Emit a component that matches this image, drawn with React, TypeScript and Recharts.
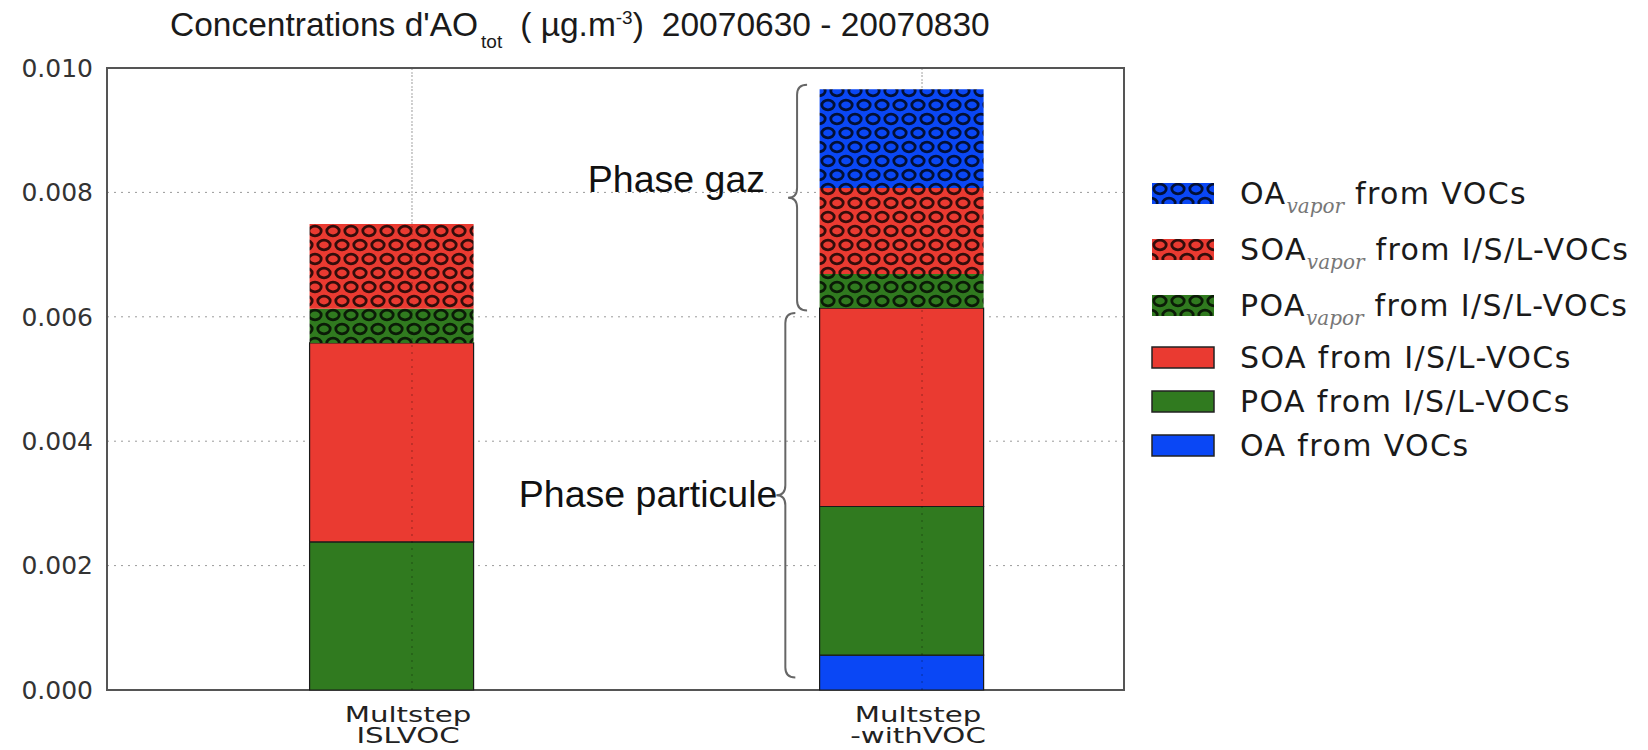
import React from 'react'
import {
  BarChart,
  Bar,
  XAxis,
  YAxis,
  CartesianGrid,
  ReferenceArea,
  ReferenceLine,
  Legend,
} from 'recharts'

// two runs, stacked from the bottom up
const categories = ['Multstep\nISLVOC', 'Multstep\n-withVOC']
const oaVocs = [0, 0.00056]
const poa = [0.00238, 0.00239]
const soa = [0.0032, 0.00319]
const poaVapor = [0.00055, 0.00055]
const soaVapor = [0.00136, 0.00138]
const oaVapor = [0, 0.00159]
const yTicks = [0, 0.002, 0.004, 0.006, 0.008, 0.01]

const BLUE = '#0a47f5'
const GREEN = '#307a1f'
const RED = '#ea3a31'

const series = [
  { key: 'oa', name: 'OA from VOCs', fill: BLUE, hatch: '' },
  { key: 'poa', name: 'POA from I/S/L-VOCs', fill: GREEN, hatch: '' },
  { key: 'soa', name: 'SOA from I/S/L-VOCs', fill: RED, hatch: '' },
  { key: 'poaV', name: 'POA|from I/S/L-VOCs', fill: GREEN, hatch: 'hatch-green' },
  { key: 'soaV', name: 'SOA|from I/S/L-VOCs', fill: RED, hatch: 'hatch-red' },
  { key: 'oaV', name: 'OA|from VOCs', fill: BLUE, hatch: 'hatch-blue' },
]

const rows = categories.map((c, i) => ({
  pos: i,
  label: c,
  oa: oaVocs[i],
  poa: poa[i],
  soa: soa[i],
  poaV: poaVapor[i],
  soaV: soaVapor[i],
  oaV: oaVapor[i],
}))

// matplotlib put the ticks a bit right of the bar centres
const X_DOMAIN: [number, number] = [-0.558, 1.436]
const TICK_SHIFT = 0.04
const tickPos = categories.map((_, i) => i + TICK_SHIFT)

const particle = oaVocs[1] + poa[1] + soa[1]
const total = particle + poaVapor[1] + soaVapor[1] + oaVapor[1]

function HatchDefs() {
  const mk = (id: string, color: string) => (
    <pattern key={id} id={id} patternUnits="userSpaceOnUse" width={18} height={28}>
      <rect width={18} height={28} fill={color} />
      {[
        [9, 7],
        [0, 21],
        [18, 21],
      ].map(([cx, cy], k) => (
        <ellipse
          key={k}
          cx={cx}
          cy={cy}
          rx={6.2}
          ry={4.8}
          fill="none"
          stroke="rgba(0,0,0,0.78)"
          strokeWidth={2.8}
        />
      ))}
    </pattern>
  )
  return (
    <svg width={0} height={0} style={{ position: 'absolute' }}>
      <defs>
        {mk('hatch-blue', BLUE)}
        {mk('hatch-red', RED)}
        {mk('hatch-green', GREEN)}
      </defs>
    </svg>
  )
}

// the source figure was stretched sideways, hence the scaleX
function CatTick({ x, y, payload }: any) {
  const idx = Math.round(payload.value - TICK_SHIFT)
  const lines = (categories[idx] || '').split('\n')
  return (
    <g>
      {lines.map((l, k) => (
        <text
          key={k}
          transform={`translate(${x - 4},${y + k * 21}) scale(1.33,1)`}
          textAnchor="middle"
          fill="#222"
          fontSize={22}
          fontFamily="DejaVu Sans"
        >
          {l}
        </text>
      ))}
    </g>
  )
}

function Brace({ x, y, height, text, tipShift, gap }: any) {
  const top = y
  const bot = y + height
  const mid = (top + bot) / 2
  const c = 10
  const d = `M ${x + c} ${top} Q ${x} ${top} ${x} ${top + c} L ${x} ${mid - c} Q ${x} ${mid} ${x - 9} ${mid} Q ${x} ${mid} ${x} ${mid + c} L ${x} ${bot - c} Q ${x} ${bot} ${x + c} ${bot}`
  return (
    <g>
      <path d={d} fill="none" stroke="#666" strokeWidth={2} />
      <text
        x={x - gap}
        y={mid + tipShift}
        textAnchor="end"
        fill="#111"
        fontSize={37.5}
        fontFamily="Liberation Sans"
      >
        {text}
      </text>
    </g>
  )
}

function LegendBox() {
  const items = [...series].reverse()
  return (
    <div style={{ fontFamily: 'DejaVu Sans', color: '#1a1a1a' }}>
      {items.map((s, i) => {
        const [head, tail] = s.name.split('|')
        const sub = tail !== undefined
        return (
          <div
            key={s.key}
            style={{
              display: 'flex',
              alignItems: 'center',
              height: sub ? 56 : 44,
              marginTop: i === 3 ? 2 : 0,
            }}
          >
            <svg width={64} height={23} style={{ flex: 'none' }}>
              <rect
                x={1}
                y={1}
                width={62}
                height={21}
                fill={s.hatch ? `url(#${s.hatch})` : s.fill}
                stroke={s.hatch ? 'none' : '#222'}
                strokeWidth={1.5}
              />
            </svg>
            <span style={{ marginLeft: 25, fontSize: 30, whiteSpace: 'nowrap', letterSpacing: 1.4 }}>
              {sub ? (
                <>
                  {head}
                  <span
                    style={{
                      fontFamily: 'DejaVu Serif',
                      fontStyle: 'italic',
                      fontSize: 20,
                      color: '#777',
                      position: 'relative',
                      top: 9,
                      letterSpacing: 0,
                    }}
                  >
                    vapor
                  </span>{' '}
                  {tail}
                </>
              ) : (
                s.name
              )}
            </span>
          </div>
        )
      })}
    </div>
  )
}

export default function App() {
  return (
    <div style={{ position: 'absolute', left: 0, top: 0, width: 1648, height: 750, background: '#fff' }}>
      <HatchDefs />
      <svg width={1648} height={60} style={{ position: 'absolute', left: 0, top: 0 }}>
        <text x={170} y={36} fontFamily="Liberation Sans" fontSize={33.5} fill="#1a1a1a">
          Concentrations d'AO
          <tspan fontSize={19} dy={12} dx={3}>tot</tspan>
          <tspan dy={-12} dx={18}>( µg.m</tspan>
          <tspan fontSize={19} dy={-12}>-3</tspan>
          <tspan dy={12}>)</tspan>
          <tspan dx={18}>20070630 - 20070830</tspan>
        </text>
      </svg>
      <BarChart
        width={1648}
        height={750}
        data={rows}
        margin={{ top: 68, right: 524, bottom: 10, left: 27 }}
      >
        <CartesianGrid xAxisId="lab" stroke="#9a9a9a" strokeDasharray="2 5" />
        <XAxis xAxisId="bars" dataKey="pos" type="number" domain={X_DOMAIN} hide allowDataOverflow />
        <XAxis
          xAxisId="lab"
          dataKey="pos"
          type="number"
          domain={X_DOMAIN}
          ticks={tickPos}
          tick={<CatTick />}
          height={50}
          axisLine={false}
          tickLine={false}
          tickSize={0}
          allowDataOverflow
        />
        <YAxis
          domain={[0, 0.01]}
          ticks={yTicks}
          tickFormatter={(v: number) => v.toFixed(3)}
          width={80}
          axisLine={false}
          tickLine={false}
          tickSize={0}
          tickMargin={14}
          tick={{ fill: '#333', fontSize: 25, fontFamily: 'DejaVu Sans' }}
        />
        {series.map((s) => (
          <Bar
            key={s.key}
            xAxisId="bars"
            dataKey={s.key}
            stackId="a"
            fill={s.hatch ? `url(#${s.hatch})` : s.fill}
            stroke={s.hatch ? 'none' : '#1a1a1a'}
            strokeWidth={1.2}
            barSize={164}
            isAnimationActive={false}
          />
        ))}
        {tickPos.map((t) => (
          <ReferenceLine
            key={t}
            xAxisId="lab"
            x={t}
            stroke="rgba(0,0,0,0.35)"
            strokeDasharray="2 5"
          />
        ))}
        <ReferenceArea
          xAxisId="bars"
          x1={X_DOMAIN[0]}
          x2={X_DOMAIN[1]}
          y1={0}
          y2={0.01}
          fill="none"
          fillOpacity={0}
          stroke="#555"
          strokeWidth={2}
        />
        <ReferenceArea
          xAxisId="bars"
          x1={0.772}
          x2={0.78}
          y1={0.0002}
          y2={particle - 0.00008}
          shape={(p: any) => <Brace {...p} text="Phase particule" tipShift={12} gap={8} />}
        />
        <ReferenceArea
          xAxisId="bars"
          x1={0.795}
          x2={0.8}
          y1={particle - 0.00004}
          y2={total + 0.00007}
          shape={(p: any) => <Brace {...p} text="Phase gaz" tipShift={-6} gap={32} />}
        />
        <Legend
          layout="vertical"
          align="center"
          verticalAlign="middle"
          content={() => <LegendBox />}
          wrapperStyle={{ left: 1151, top: 165, width: 495, bottom: 'auto', right: 'auto' }}
        />
      </BarChart>
    </div>
  )
}
